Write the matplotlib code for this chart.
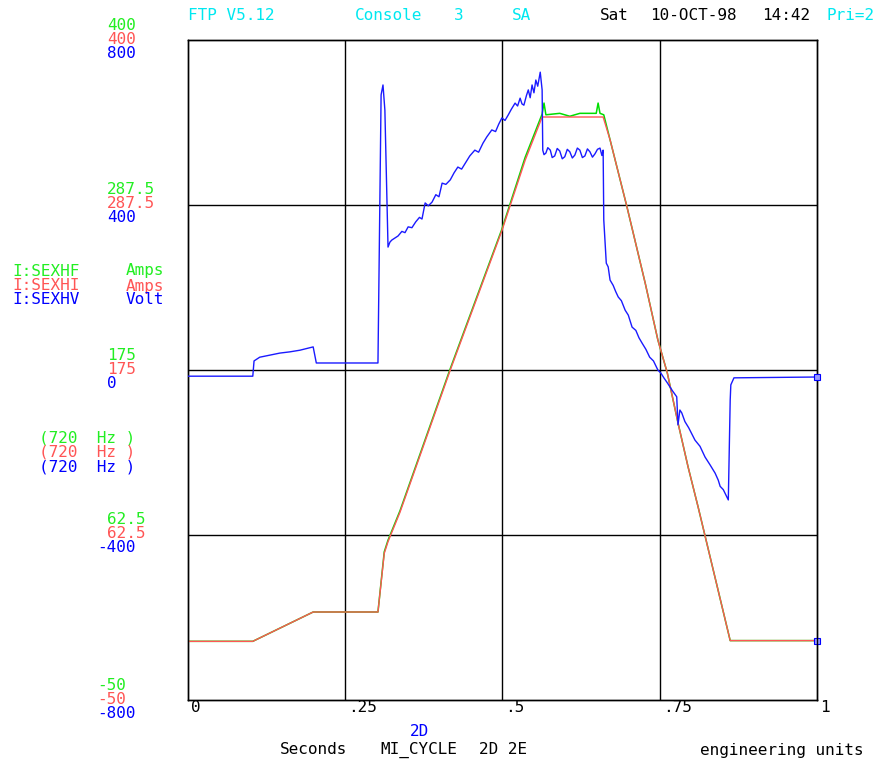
import matplotlib
matplotlib.use("Agg")
import matplotlib.pyplot as plt

# ---------------- data ----------------
# time axis in seconds (0..1)
t_red = [0.0, 0.103, 0.199, 0.302, 0.312, 0.318, 0.337, 0.417, 0.499, 0.536, 0.563,
         0.660, 0.671, 0.698, 0.727, 0.747, 0.762, 0.779, 0.795, 0.811, 0.862, 1.0]
i_red = [-10, -10, 10, 10, 50, 58, 78, 175, 270, 318, 347.5,
         347.5, 332, 286, 234, 195.5, 173, 139, 109, 81.6, -9.5, -9.5]

t_green = [0.0, 0.103, 0.199, 0.302, 0.312, 0.318, 0.337, 0.417, 0.499, 0.536, 0.563,
           0.566, 0.569, 0.591, 0.607, 0.623, 0.649, 0.652, 0.655, 0.661,
           0.671, 0.698, 0.727, 0.747, 0.762, 0.779, 0.795, 0.811, 0.862, 1.0]
i_green = [-10, -10, 10, 10, 51, 59, 79, 176, 271, 320, 349.5,
           357, 349, 350, 348, 350, 350, 357, 350, 349,
           332, 286, 234, 195.5, 173, 139, 109, 81.6, -9.5, -9.5]

t_blue = [0.0, 0.103, 0.105, 0.114, 0.130, 0.146, 0.162, 0.178, 0.199, 0.204, 0.302,
          0.307, 0.310, 0.313, 0.318, 0.321, 0.324, 0.329, 0.334, 0.340, 0.345, 0.350,
          0.356, 0.362, 0.368, 0.372, 0.377, 0.382, 0.388, 0.394, 0.399, 0.404, 0.410,
          0.417, 0.423, 0.429, 0.435, 0.442, 0.448, 0.456, 0.462, 0.469, 0.475, 0.483,
          0.489, 0.494, 0.499, 0.504, 0.509, 0.514, 0.520, 0.524, 0.528, 0.531, 0.534,
          0.538, 0.541, 0.544, 0.547, 0.550, 0.553, 0.556, 0.560, 0.563, 0.564, 0.566,
          0.569, 0.572, 0.576, 0.579, 0.583, 0.587, 0.591, 0.595, 0.599, 0.603, 0.607,
          0.611, 0.615, 0.619, 0.623, 0.627, 0.631, 0.635, 0.639, 0.643, 0.647, 0.651,
          0.655, 0.658, 0.660, 0.661, 0.665, 0.668, 0.671, 0.676, 0.680, 0.684, 0.689,
          0.695, 0.700, 0.706, 0.712, 0.717, 0.722, 0.728, 0.734, 0.740, 0.747, 0.752,
          0.757, 0.762, 0.770, 0.777, 0.779, 0.782, 0.785, 0.790, 0.796, 0.806, 0.814,
          0.822, 0.830, 0.838, 0.843, 0.846, 0.851, 0.859, 0.862, 0.863, 0.868, 1.0]
v_blue = [-15, -15, 22, 31, 36, 41, 44, 48, 56, 17, 17,
          667, 691, 630, 298, 310, 315, 320, 325, 336, 333, 347,
          345, 359, 370, 366, 405, 398, 407, 425, 420, 453, 450,
          461, 478, 492, 487, 504, 519, 533, 528, 550, 565, 582,
          578, 596, 611, 605, 618, 632, 647, 640, 659, 645, 642,
          665, 679, 660, 691, 672, 703, 688, 722, 679, 533, 522,
          526, 539, 533, 515, 519, 537, 531, 512, 517, 535, 529,
          514, 521, 538, 533, 515, 519, 536, 529, 516, 524, 535,
          538, 520, 533, 364, 259, 250, 218, 205, 190, 177, 168,
          145, 133, 104, 96, 78, 65, 50, 31, 22, 0, -8,
          -20, -31, -50, -65, -133, -97, -104, -125, -140, -170, -185,
          -211, -230, -250, -267, -282, -290, -315, -73, -36, -19, -17]

x_ticks = [0, 0.25, 0.5, 0.75, 1]
x_tick_labels = ["0", ".25", ".5", ".75", "1"]
amp_ticks = [400, 287.5, 175, 62.5, -50]
amp_labels = ["400", "287.5", "175", "62.5", "-50"]
volt_labels = ["800", "400", "0", "-400", "-800"]

GREEN = "#22ee22"
RED = "#ff5555"
BLUE = "#0000ff"
CYAN = "#00e8f0"
FONT = "DejaVu Sans Mono"
FS = 11.5

W, H = 877, 759
fig = plt.figure(figsize=(W / 100, H / 100), dpi=100)

def fx(px):
    return px / W

def fy(py):
    return 1 - py / H

ax = fig.add_axes([fx(188), fy(700), (817 - 188) / W, 660 / H])
ax.set_xlim(0, 1)
ax.set_ylim(-50, 400)
ax2 = ax.twinx()
ax2.set_ylim(-800, 800)

for a in (ax, ax2):
    a.set_xticks([])
    a.set_yticks([])
    for s in a.spines.values():
        s.set_linewidth(1.0)
        s.set_color("black")

for xv in x_ticks[1:-1]:
    ax.axvline(xv, color="black", lw=1.0, zorder=1)
for yv in amp_ticks[1:-1]:
    ax.axhline(yv, color="black", lw=1.0, zorder=1)

ax.plot(t_green, i_green, color="#00dd00", lw=1.1, zorder=3)
ax.plot(t_red, i_red, color=RED, lw=1.0, zorder=4)
ax2.plot(t_blue, v_blue, color="#1a1aff", lw=1.0, zorder=5)
ax2.plot([t_blue[-1]], [v_blue[-1]], marker="s", ms=5, mfc="#9999ff", mec=BLUE,
         mew=0.8, clip_on=False, zorder=6)
ax.plot([t_red[-1]], [i_red[-1]], marker="s", ms=5, mfc="#9999ff", mec=BLUE,
        mew=0.8, clip_on=False, zorder=6)

def txt(px, py, s, color, ha="left"):
    fig.text(fx(px), fy(py), s, color=color, family=FONT, fontsize=FS,
             ha=ha, va="center")

# left axis labels (green, red above/at gridline; blue below)
grid_px = [40, 205, 370, 535, 700]
for gy, al, vl in zip(grid_px, amp_labels, volt_labels):
    for off, lab, col in ((-14, al, GREEN), (0, al, RED), (14, vl, BLUE)):
        x0 = 97 if lab.startswith("-") else 107
        txt(x0, gy + off - 1, lab, col)

# legend
txt(12, 271, "I:SEXHF", GREEN)
txt(12, 286, "I:SEXHI", RED)
txt(12, 300, "I:SEXHV", BLUE)
txt(126, 271, "Amps", GREEN)
txt(126, 286, "Amps", RED)
txt(126, 300, "Volt", BLUE)
txt(39, 438, "(720  Hz )", GREEN)
txt(39, 452, "(720  Hz )", RED)
txt(39, 467, "(720  Hz )", BLUE)

# header
txt(188, 15, "FTP V5.12", CYAN)
txt(355, 15, "Console", CYAN)
txt(454, 15, "3", CYAN)
txt(512, 15, "SA", CYAN)
txt(600, 15, "Sat", "black")
txt(650, 15, "10-OCT-98", "black")
txt(762, 15, "14:42", "black")
txt(826, 15, "Pri=2", CYAN)

# x tick labels
for xv, lab in zip(x_ticks, x_tick_labels):
    px = 188 + xv * 629
    txt(px + 3, 708, lab, "black")

txt(410, 731, "2D", BLUE)
txt(280, 750, "Seconds", "black")
txt(380, 750, "MI_CYCLE", "black")
txt(479, 750, "2D 2E", "black")
txt(700, 750, "engineering units", "black")

fig.savefig("out.png", dpi=100)
